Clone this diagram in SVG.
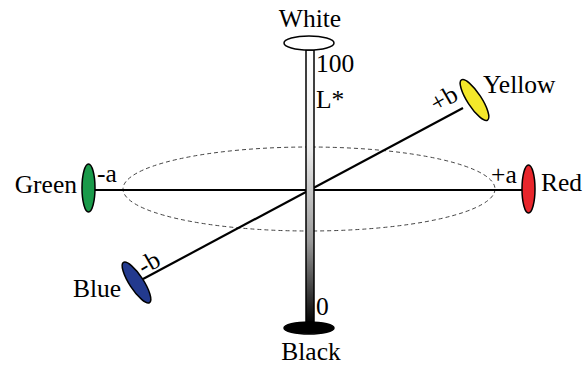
<svg xmlns="http://www.w3.org/2000/svg" width="584" height="366" viewBox="0 0 584 366" font-family="'Liberation Serif', 'Times New Roman', serif">
<style>
text{font-size:25.5px;fill:#000}
.ax{stroke:#000;stroke-width:2.2;fill:none}
.pole{stroke:#000;stroke-width:1.5}
</style>
<defs>
<linearGradient id="lg" x1="0" y1="0" x2="0" y2="1">
<stop offset="0" stop-color="#fff"/>
<stop offset="0.35" stop-color="#eee"/>
<stop offset="0.7" stop-color="#999"/>
<stop offset="1" stop-color="#000"/>
</linearGradient>
</defs>
<rect width="584" height="366" fill="#fff"/>
<g id="connectors">
<ellipse cx="309" cy="189" rx="186" ry="42" fill="none" stroke="#444" stroke-width="1" stroke-dasharray="4,3"/>
<line class="ax" x1="95" y1="190" x2="522" y2="190"/>
<line class="ax" x1="143" y1="279" x2="463" y2="108"/>
<rect id="Lbar" x="306" y="50" width="8" height="274" fill="url(#lg)" stroke="#000" stroke-width="1.5"/>
</g>
<g id="white">
<ellipse cx="309" cy="43" rx="25" ry="7" fill="#fff" class="pole"/>
<text x="310" y="27" text-anchor="middle">White</text>
</g>
<g id="black">
<ellipse cx="309" cy="328" rx="25" ry="6" fill="#000" class="pole"/>
<text x="311" y="360" text-anchor="middle">Black</text>
</g>
<g id="labelsL">
<text x="316" y="72">100</text>
<text x="316" y="108">L*</text>
<text x="316" y="315">0</text>
</g>
<g id="green">
<ellipse cx="88.5" cy="188" rx="6.5" ry="24" fill="#1a9a4a" class="pole"/>
<text x="77" y="193" text-anchor="end">Green</text>
<text x="97" y="182">-a</text>
</g>
<g id="red">
<ellipse cx="528.5" cy="189" rx="6.5" ry="24" fill="#e8262c" class="pole"/>
<text x="541" y="191">Red</text>
<text x="491" y="183">+a</text>
</g>
<g id="yellow">
<ellipse cx="474.5" cy="100" rx="7" ry="24" transform="rotate(-33 474.5 100)" fill="#f4e82a" class="pole"/>
<text x="483" y="93">Yellow</text>
<text transform="translate(448,106) rotate(-30)" text-anchor="middle">+b</text>
</g>
<g id="blue">
<ellipse cx="136.5" cy="282.5" rx="7" ry="24" transform="rotate(-33 136.5 282.5)" fill="#233a8e" class="pole"/>
<text x="73" y="297">Blue</text>
<text transform="translate(153,270) rotate(-30)" text-anchor="middle">-b</text>
</g>
</svg>
